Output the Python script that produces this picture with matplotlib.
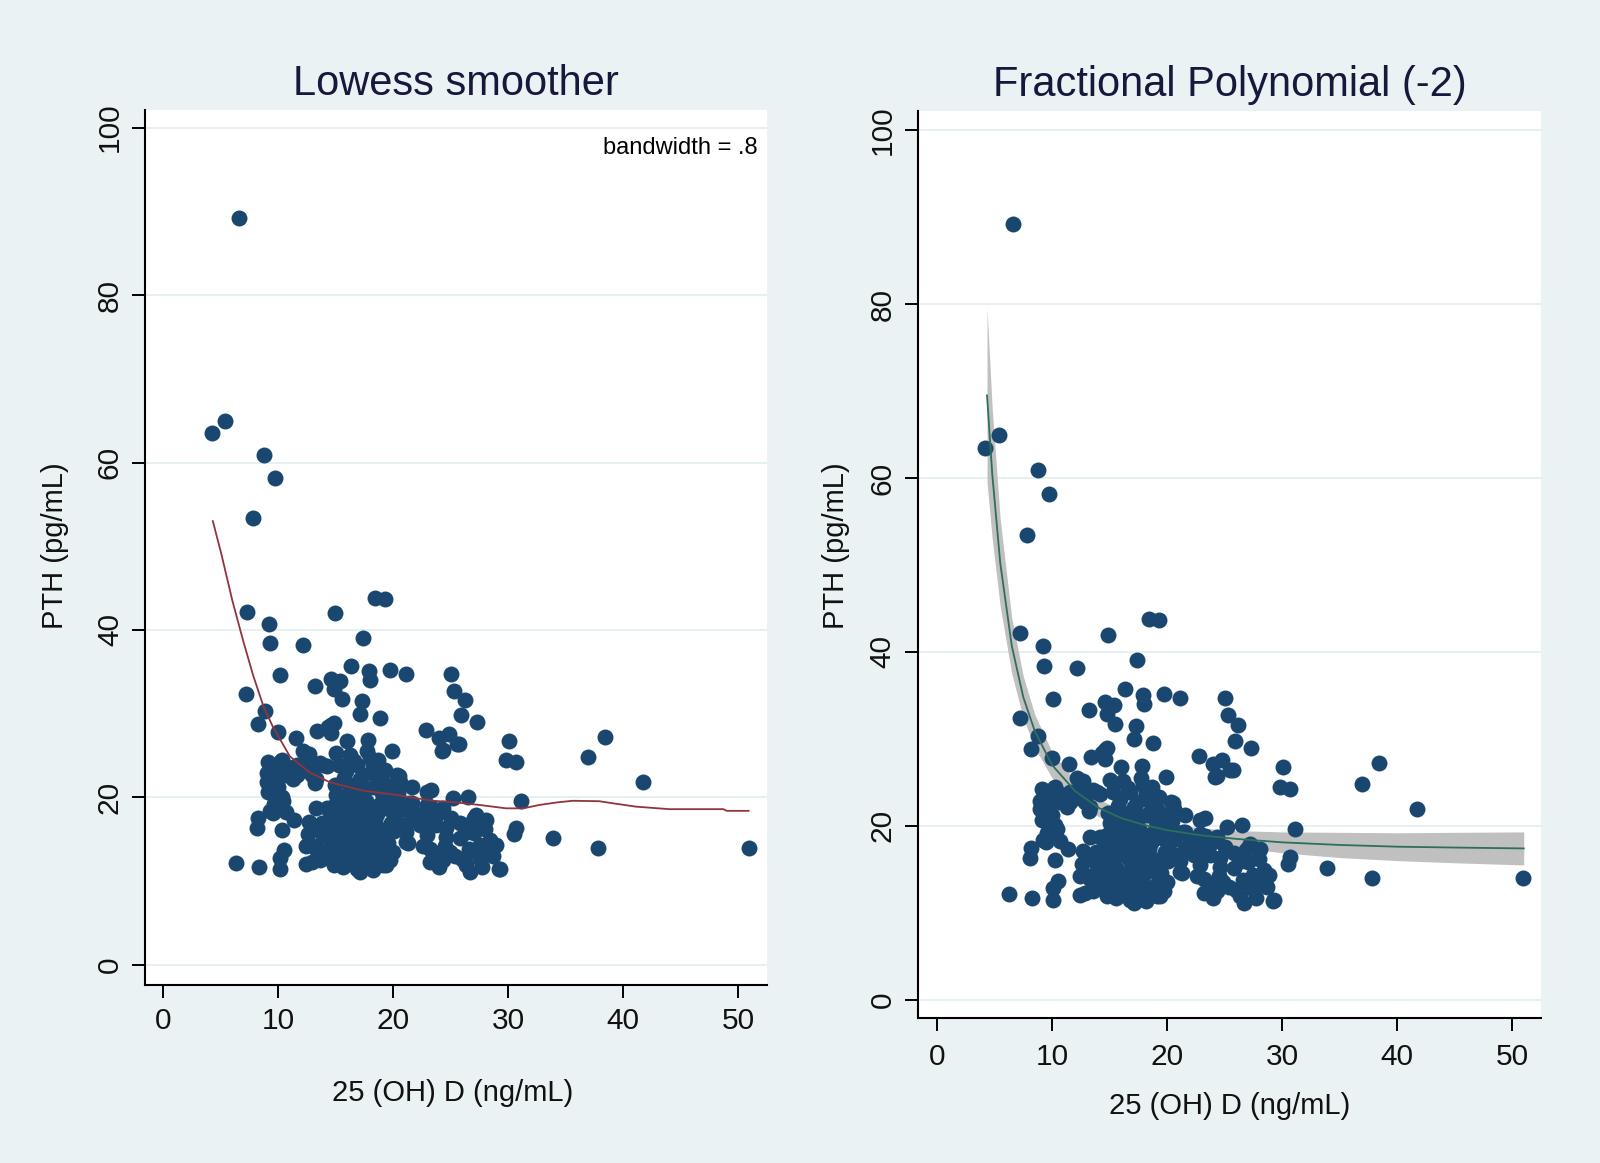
import matplotlib
matplotlib.use("Agg")
import matplotlib.pyplot as plt
import numpy as np

plt.rcParams['font.family'] = ['Liberation Sans', 'DejaVu Sans']

# ---------------- data ----------------
vit_d = [
    4.2, 5.4, 6.6, 8.75, 9.7, 7.8, 7.25, 9.2, 9.3, 12.15, 14.9, 18.4, 19.3, 17.4,
    10.1, 16.3, 17.9, 18.0, 19.7, 21.1, 13.2, 14.6, 15.4, 14.8, 15.5, 7.2, 17.3,
    17.1, 18.8, 8.8, 8.2, 10.0, 11.5, 13.4, 14.6, 14.6, 16.0, 17.8, 19.9, 22.8,
    12.15, 15.05, 16.2, 17.7,
    25.05, 25.3, 26.2, 25.9, 27.3, 24.0, 24.8, 25.7, 24.2, 30.1, 29.8, 30.7, 36.9,
    38.4, 41.7, 31.1, 33.9, 37.8, 50.9, 30.7, 30.5, 29.2,
    9.1, 9.8, 10.7, 11.6, 12.4, 13.3, 13.9, 8.97, 9.8, 10.7, 11.6, 12.9, 8.97, 9.5,
    13.2, 9.1, 10.3, 10.4, 12.7, 14.2, 13.3, 11.3,
    15.3, 15.9, 16.8, 17.95, 18.7, 17.4, 18.5, 14.9, 16.2, 19.1, 20.3, 20.6, 19.7,
    15.05, 17.4, 20.0, 21.4, 20.6, 22.9, 22.9, 16.1, 17.1, 18.2, 15.6, 19.0, 21.1,
    23.3,
    13.3, 14.2, 9.5, 10.7, 8.2, 11.4, 8.1, 10.3, 12.7, 14.5, 15.05, 16.2, 17.4, 18.5,
    19.1, 13.9, 15.6, 16.8, 17.95, 19.4, 14.5, 15.9, 17.4, 13.3, 12.4, 13.6, 15.05,
    16.8, 18.2, 19.1, 20.0, 21.1, 21.1, 20.9, 6.3, 8.3, 10.1, 10.1, 10.5, 12.4, 13.3,
    14.8, 17.1, 18.8, 17.65, 17.9, 19.1, 16.6, 12.9, 14.2,
    19.7, 21.6, 25.2, 26.5, 20.3, 22.9, 27.2, 28.1, 23.7, 24.6, 21.0, 22.9, 23.2,
    23.2, 24.0, 24.9, 25.8, 26.4, 27.0, 26.7, 27.5, 28.4, 26.7, 27.5, 28.1, 29.3,
    19.2, 19.4, 22.3, 24.3, 23.4, 26.9, 25.8, 26.6, 27.8, 26.35, 28.7, 24.0, 24.6,
    23.5, 23.3, 21.3,
    16.0, 16.5, 17.0, 18.0, 18.6, 15.3, 16.4, 18.0, 17.0, 18.5, 19.7, 15.5, 14.0,
    16.0, 17.8, 9.25, 10.3, 13.6, 14.3, 14.8, 20.5, 24.3, 25.5,
    12.6, 13.0, 13.8, 14.4, 15.0, 15.8, 16.2, 16.7, 17.2, 17.8, 18.3, 18.8, 19.5,
    19.8, 20.1, 16.5, 15.6, 17.5, 18.0, 19.0, 14.0, 15.2, 16.1, 16.9, 18.4, 17.6,
    18.9, 19.6, 15.6, 14.8, 20.4, 21.6, 16.9, 18.2, 19.3, 16.6, 15.7, 17.0, 10.0,
    9.4, 11.1, 12.0, 10.2, 12.8, 9.6, 24.0, 25.0, 24.5, 26.0, 25.4, 22.6, 27.0,
    28.0, 28.9, 27.7, 24.3, 22.0, 21.6,
]
pth = [
    63.5, 64.9, 89.2, 60.9, 58.2, 53.4, 42.2, 40.7, 38.4, 38.2, 42.0, 43.8, 43.7, 39.1,
    34.6, 35.7, 35.1, 34.0, 35.2, 34.7, 33.3, 34.2, 33.9, 32.9, 31.7, 32.4, 31.5,
    30.0, 29.5, 30.3, 28.8, 27.8, 27.1, 27.9, 28.7, 27.7, 26.8, 26.9, 25.6, 28.0,
    25.5, 25.3, 25.1, 25.5,
    34.7, 32.7, 31.6, 29.8, 29.0, 27.1, 27.6, 26.4, 25.6, 26.8, 24.5, 24.2, 24.8,
    27.2, 21.9, 19.6, 15.1, 14.0, 14.0, 16.4, 15.6, 11.4,
    24.2, 23.9, 23.7, 23.9, 24.3, 23.9, 23.9, 22.9, 22.9, 22.7, 22.7, 22.7, 21.9, 21.5,
    21.7, 20.7, 20.1, 19.6, 25.2, 23.7, 22.2, 22.2,
    23.9, 23.1, 23.9, 24.7, 24.5, 22.7, 22.7, 21.5, 21.5, 21.9, 22.7, 21.9, 21.3,
    20.3, 20.7, 19.9, 19.3, 18.5, 20.7, 19.1, 20.7, 22.2, 23.8, 19.2, 20.5, 19.2,
    20.9,
    18.7, 18.7, 18.1, 18.3, 17.5, 17.3, 16.3, 16.1, 17.1, 17.5, 16.3, 17.5, 16.7, 16.3,
    15.5, 15.5, 15.1, 15.9, 14.3, 13.5, 13.9, 13.5, 13.5, 13.9, 12.1, 12.5, 12.3,
    11.5, 11.3, 11.9, 13.5, 15.9, 14.7, 16.7, 12.2, 11.7, 11.5, 12.8, 13.7, 14.2, 14.2,
    11.9, 11.1, 13.0, 16.1, 17.6, 16.1, 14.6, 12.3, 13.0,
    19.5, 19.3, 19.9, 20.1, 18.3, 17.5, 17.9, 17.3, 16.7, 16.3, 16.5, 15.5, 13.9,
    12.3, 11.7, 13.5, 15.1, 15.9, 17.5, 13.5, 14.3, 14.9, 11.1, 12.7, 13.5, 11.5,
    13.5, 11.9, 16.7, 18.7, 18.3, 17.2, 16.9, 13.8, 13.8, 11.9, 13.0, 13.4, 15.3,
    16.9, 18.8, 14.6,
    18.5, 19.5, 18.2, 19.0, 18.0, 17.8, 16.5, 15.0, 12.5, 12.2, 12.5, 14.0, 16.6,
    12.0, 18.9, 18.4, 24.5, 24.1, 28.4, 28.9, 22.6, 25.7, 26.4,
    15.6, 16.4, 17.0, 15.2, 14.4, 16.8, 18.0, 17.2, 15.0, 14.0, 14.8, 15.3, 14.6,
    17.0, 16.0, 12.8, 11.7, 12.0, 12.9, 12.4, 12.8, 13.3, 13.9, 13.2, 17.3, 19.6,
    19.3, 18.6, 18.2, 19.0, 20.5, 21.2, 20.0, 21.3, 23.3, 24.4, 22.3, 21.0, 21.2,
    23.3, 23.2, 23.2, 24.3, 23.5, 19.2, 18.1, 17.6, 14.2, 12.6, 13.0, 14.2, 15.8,
    16.2, 14.3, 11.7, 12.5, 18.0, 17.5,
]

# Lowess smoother (bandwidth .8)
lowess_x = [4.3, 5.0, 6.0, 6.9, 7.8, 8.7, 9.5, 11.0, 12.7, 14.5, 17.4, 20.3, 22.0,
            23.5, 25.5, 27.5, 29.8, 31.3, 32.7, 34.2, 35.6, 37.9, 39.1, 41.1, 44.0,
            48.7, 49.0, 50.9]
lowess_y = [53.0, 49.3, 43.5, 38.9, 34.6, 30.9, 28.5, 24.9, 23.0, 21.8, 20.8, 20.3,
            19.9, 19.6, 19.4, 19.1, 18.7, 18.7, 19.1, 19.4, 19.6, 19.55, 19.3, 18.9,
            18.6, 18.6, 18.4, 18.4]

# Fractional polynomial (-2) fit with CI
fp_x = [4.35, 4.8, 5.5, 6.5, 7.5, 8.5, 10, 12, 14, 16, 18, 20, 23, 26, 30, 35, 40, 45, 51]
fp_y = [69.5, 60.5, 50.2, 40.7, 34.8, 30.9, 27.0, 24.0, 22.1, 20.9, 20.1, 19.5,
        18.9, 18.5, 18.1, 17.8, 17.6, 17.5, 17.4]
fp_lo = [59.5, 53.0, 45.2, 37.5, 32.4, 29.0, 25.5, 22.8, 21.1, 20.0, 19.25, 18.7,
         18.05, 17.55, 16.9, 16.35, 16.0, 15.75, 15.5]
fp_hi = [79.5, 68.0, 55.2, 43.9, 37.2, 32.8, 28.5, 25.2, 23.1, 21.8, 20.95, 20.3,
         19.75, 19.45, 19.3, 19.25, 19.2, 19.25, 19.3]

xticks = [0, 10, 20, 30, 40, 50]
yticks = [0, 20, 40, 60, 80, 100]
titles = ["Lowess smoother", "Fractional Polynomial (-2)"]
xlab = "25 (OH) D (ng/mL)"
ylab = "PTH (pg/mL)"

# ---------------- styling ----------------
BG = "#EAF2F3"
NAVY = "#1A476F"
MAROON = "#90353B"
GREEN = "#2D6E5C"
BAND = "#C0C0C0"
TXT = "#111111"
TITLE_C = "#16183C"

fig = plt.figure(figsize=(16, 11.63), dpi=100, facecolor=BG)
W, H = 1600, 1163

def px_axes(l, t, r, b):
    return fig.add_axes([l / W, (H - b) / H, (r - l) / W, (b - t) / H])

axL = px_axes(145, 110, 767, 985)
axR = px_axes(918, 111, 1541, 1018)

def style(ax, xpad, ypad):
    ax.set_facecolor("white")
    for s in ("top", "right"):
        ax.spines[s].set_visible(False)
    for s in ("left", "bottom"):
        ax.spines[s].set_linewidth(1.5)
        ax.spines[s].set_color("black")
    ax.set_xticks(xticks)
    ax.set_yticks(yticks)
    ax.tick_params(axis="both", length=9.4, width=1.4, colors="black",
                   labelsize=21.5, labelcolor=TXT)
    ax.tick_params(axis="x", pad=xpad)
    ax.tick_params(axis="y", pad=ypad, labelrotation=90)
    for lab in ax.get_yticklabels():
        lab.set_va("center")
    ax.grid(axis="y", color="#E6EFF1", linewidth=1.4)
    ax.set_axisbelow(True)

style(axL, 6.2, 5.8)
style(axR, 8.4, 6.0)

MS = 132

# left panel
axL.scatter(vit_d, pth, s=MS, marker="o", color=NAVY, linewidths=0, zorder=3)
axL.plot(lowess_x, lowess_y, color=MAROON, lw=1.3, zorder=4)
axL.set_xlim(-1.6, 52.5)
axL.set_ylim(-2.4, 102.1)
axL.text(0.9855, (985 - 148) / 875, "bandwidth = .8", transform=axL.transAxes,
         ha="right", va="center", fontsize=17, color="black")

# right panel
axR.fill_between(fp_x, fp_lo, fp_hi, color=BAND, linewidth=0, zorder=2)
axR.scatter(vit_d, pth, s=MS, marker="o", color=NAVY, linewidths=0, zorder=3)
axR.plot(fp_x, fp_y, color=GREEN, lw=1.3, zorder=4)
axR.set_xlim(-1.65, 52.5)
axR.set_ylim(-2.1, 102.2)

for ax, t, ty in ((axL, titles[0], (985 - 84) / 875), (axR, titles[1], (1018 - 85) / 907)):
    ax.set_title(t, fontsize=30, color=TITLE_C, y=ty, va="center", pad=0)

axL.set_xlabel(xlab, fontsize=21, color=TXT, va="center")
axL.xaxis.set_label_coords(0.4945, -(1093 - 985) / 875)
axR.set_xlabel(xlab, fontsize=21, color=TXT, va="center")
axR.xaxis.set_label_coords(0.5, -(1106 - 1018) / 907)

axL.set_ylabel(ylab, fontsize=21, color=TXT, va="center")
axL.yaxis.set_label_coords((55 - 145) / 622, 0.5017)
axR.set_ylabel(ylab, fontsize=21, color=TXT, va="center")
axR.yaxis.set_label_coords((836 - 918) / 623, 0.521)

fig.savefig("out.png", dpi=100, facecolor=BG)
